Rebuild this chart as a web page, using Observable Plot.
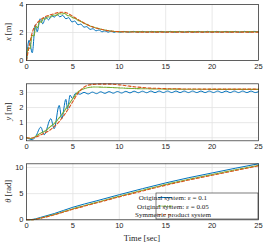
<!DOCTYPE html>
<html><head><meta charset="utf-8">
<script src="https://cdn.jsdelivr.net/npm/d3@7"></script>
<script src="https://cdn.jsdelivr.net/npm/@observablehq/plot@0.6"></script>
<style>
body{margin:0;background:#fff;}
#wrap{position:relative;width:264px;height:245px;overflow:hidden;}
#wrap svg{position:absolute;left:0;}
</style></head><body><div id="wrap"></div>
<script>
// ---------- data ----------
const xTicks = [0, 5, 10, 15, 20, 25];
const legendLabels = ["Original system: ε = 0.1", "Original system: ε = 0.05", "Symmetric product system"];

// x [m], original system eps = 0.1 (key points: peaks/troughs)
const tXBlue = [0,0.28,0.62,0.95,1.15,1.47,1.75,2.08,2.38,2.7,3.0,3.3,3.6,3.9,4.25,4.55,4.9,5.2,5.55,5.85,6.2,6.5,6.85,7.15,7.5,7.8,8.15,8.45,8.8,9.1,9.45,9.75,10.1,10.5,11,11.5,12,12.5,13,13.5,14,14.5,15,15.5,16,16.5,17,17.5,18,18.5,19,19.5,20,20.5,21,21.5,22,22.5,23,23.5,24,24.5,25];
const xBlue  = [0,1.45,0.55,2.55,2.05,2.98,2.62,3.1,2.9,3.2,3.1,3.28,3.12,3.22,2.98,3.06,2.75,2.82,2.55,2.6,2.38,2.42,2.22,2.27,2.12,2.18,2.05,2.12,2.02,2.1,2.01,2.08,2.02,2.08,2.02,2.08,2.02,2.08,2.02,2.08,2.02,2.08,2.02,2.08,2.02,2.08,2.02,2.08,2.02,2.08,2.02,2.08,2.02,2.08,2.02,2.08,2.02,2.08,2.02,2.08,2.02,2.08,2.05];
// x [m], original system eps = 0.05
const tXGreen = [0,0.2,0.4,0.6,0.8,1.0,1.2,1.4,1.6,1.8,2.0,2.3,2.6,2.9,3.2,3.5,3.8,4.1,4.4,4.7,5.0,5.3,5.6,5.9,6.2,6.5,6.8,7.1,7.4,7.7,8.0,8.3,8.6,8.9,9.2,9.5,10,11,12,13,14,15,16,17,18,19,20,21,22,23,24,25];
const xGreen  = [0,0.9,0.85,1.8,1.75,2.45,2.35,2.8,2.72,3.0,2.95,3.12,3.1,3.25,3.22,3.35,3.32,3.36,3.22,3.18,3.05,2.98,2.85,2.78,2.65,2.58,2.48,2.42,2.34,2.3,2.24,2.2,2.16,2.12,2.1,2.07,2.06,2.05,2.06,2.05,2.06,2.05,2.06,2.05,2.06,2.05,2.06,2.05,2.06,2.05,2.06,2.05];
// x [m], symmetric product system
const tXRed = [0,0.25,0.5,0.75,1,1.5,2,2.5,3,3.5,4,4.5,5,5.5,6,6.5,7,7.5,8,8.5,9,9.5,10,11,12,14,16,18,20,22,25];
const xRed  = [0,0.9,1.7,2.25,2.55,2.9,3.12,3.25,3.35,3.43,3.45,3.35,3.15,2.95,2.75,2.58,2.43,2.32,2.23,2.16,2.11,2.08,2.06,2.04,2.03,2.03,2.03,2.03,2.03,2.03,2.03];

// y [m]
const tYBlue = [0,0.65,1.0,1.54,1.9,2.62,2.98,3.52,3.8,4.24,4.42,4.7,4.95,5.3,5.75,6.2,6.65,7.1,7.55,8,8.45,8.9,9.35,9.8,10.25,10.7,11.15,11.6,12.05,12.5,12.95,13.4,13.85,14.3,14.75,15.2,15.65,16.1,16.55,17,17.45,17.9,18.35,18.8,19.25,19.7,20.15,20.6,21.05,21.5,21.95,22.4,22.85,23.3,23.75,24.2,24.65,25];
const yBlue  = [0,-0.12,0.1,0.7,0.2,1.26,0.6,2.14,1.26,2.54,1.92,2.82,2.6,2.95,2.88,3.0,2.9,3.02,2.92,3.04,2.94,3.05,2.95,3.06,2.96,3.07,2.97,3.08,2.98,3.08,2.98,3.09,2.99,3.09,2.99,3.09,2.99,3.09,2.99,3.09,2.99,3.09,2.99,3.09,2.99,3.09,2.99,3.09,2.99,3.09,2.99,3.09,2.99,3.09,2.99,3.09,2.99,3.05];
const tYGreen = [0,0.5,1,1.5,2,2.5,3,3.5,4,4.5,5,5.5,6,6.5,7,7.5,8,9,10,11,12,13,14,15,16,17,18,19,20,21,22,23,24,25];
const yGreen  = [0,-0.05,0.1,0.3,0.45,0.7,0.95,1.3,1.7,2.15,2.6,3.0,3.2,3.3,3.35,3.36,3.35,3.33,3.3,3.27,3.25,3.24,3.23,3.22,3.22,3.21,3.21,3.21,3.2,3.2,3.2,3.2,3.2,3.2];
const tYRed = [0,0.5,1,1.5,2,2.5,3,3.5,4,4.5,5,5.5,6,6.5,7,8,9,10,11,12,13,14,15,16,17,18,19,20,21,22,23,24,25];
const yRed  = [0,-0.02,0.05,0.18,0.33,0.5,0.75,1.05,1.45,1.9,2.4,2.9,3.25,3.45,3.52,3.55,3.55,3.5,3.42,3.35,3.3,3.27,3.25,3.24,3.23,3.23,3.22,3.22,3.22,3.22,3.22,3.22,3.22];

// theta [rad]
const tTh = [0,0.5,1,1.5,2,3,4,5,7.5,10,12.5,15,17.5,20,22.5,25];
const thBlue  = [0,0.04,0.2,0.45,0.7,1.2,1.8,2.4,3.6,4.8,5.95,7.05,8.05,8.95,9.85,10.7];
const thGreen = [0,0.02,0.12,0.32,0.55,1.02,1.55,2.1,3.3,4.5,5.65,6.75,7.75,8.65,9.55,10.4];
const thRed   = [0,0.01,0.1,0.28,0.5,0.95,1.48,2.0,3.2,4.38,5.5,6.6,7.6,8.5,9.4,10.3];

// ---------- styling ----------
const C = {blue: "#0072BD", green: "#77AC30", red: "#D95319"};
const tickFont = "Liberation Sans, Arial, sans-serif";
const serif = "Liberation Serif, Times New Roman, serif";

function series(tB, vB, tG, vG, tR, vR) {
  return [
    Plot.line(tB, {x: tB, y: vB, stroke: C.blue, strokeWidth: 1, curve: "monotone-x"}),
    Plot.line(tG, {x: tG, y: vG, stroke: C.green, strokeWidth: 1.1, strokeDasharray: "2.5,1,1,1", curve: "monotone-x"}),
    Plot.line(tR, {x: tR, y: vR, stroke: C.red, strokeWidth: 1.1, strokeDasharray: "3,2", curve: "monotone-x"})
  ];
}

function panel(o) {
  const svg = Plot.plot({
    width: 264, height: o.height,
    marginLeft: 26, marginRight: 6, marginTop: o.mt, marginBottom: o.mb,
    style: {fontFamily: tickFont, fontSize: "7.5px", color: "#262626", background: "transparent", overflow: "visible"},
    x: {domain: [0, 25]},
    y: {domain: o.yDomain},
    marks: [
      Plot.gridX(xTicks, {stroke: "#e2e2e2", strokeOpacity: 1, strokeWidth: 0.8}),
      Plot.gridY(o.yTicks, {stroke: "#e2e2e2", strokeOpacity: 1, strokeWidth: 0.8}),
      ...o.marks,
      Plot.frame({stroke: "#262626", strokeWidth: 0.7}),
      Plot.axisX(xTicks, {tickSize: 0, tickPadding: 3, label: null}),
      Plot.axisY(o.yTicks, {tickSize: 0, tickPadding: 3, label: null})
    ]
  });
  svg.style.top = o.top + "px";
  const s = d3.select(svg);
  const lab = s.append("text")
    .attr("transform", `translate(${o.labX},${o.labY}) rotate(-90)`)
    .attr("text-anchor", "middle").attr("fill", "#262626")
    .style("font-family", serif).style("font-size", "8.5px");
  lab.append("tspan").style("font-style", "italic").text(o.labVar);
  lab.append("tspan").text(" " + o.labUnit);
  document.getElementById("wrap").appendChild(svg);
  return s;
}

panel({top: 0, height: 75, mt: 4, mb: 15, yDomain: [0, 4], yTicks: [0, 2, 4],
  marks: series(tXBlue, xBlue, tXGreen, xGreen, tXRed, xRed),
  labX: 11, labY: 32, labVar: "x", labUnit: "[m]"});

panel({top: 75, height: 80, mt: 8.3, mb: 14.7, yDomain: [-0.2, 3.57], yTicks: [0, 1, 2, 3],
  marks: series(tYBlue, yBlue, tYGreen, yGreen, tYRed, yRed),
  labX: 11, labY: 36.5, labVar: "y", labUnit: "[m]"});

const s3 = panel({top: 155, height: 90, mt: 8.3, mb: 25.7, yDomain: [0, 10.7], yTicks: [0, 5, 10],
  marks: series(tTh, thBlue, tTh, thGreen, tTh, thRed),
  labX: 11, labY: 36.3, labVar: "θ", labUnit: "[rad]"});

// x-axis title
s3.append("text").attr("x", 142).attr("y", 86).attr("text-anchor", "middle")
  .attr("fill", "#262626").style("font-family", serif).style("font-size", "8.5px")
  .text("Time [sec]");

// legend
const lg = s3.append("g");
lg.append("rect").attr("x", 156).attr("y", 38).attr("width", 102).attr("height", 26)
  .attr("fill", "#fff").attr("stroke", "#262626").attr("stroke-width", 0.6);
const lstyles = [[C.blue, null, 1], [C.green, "2.5,1,1,1", 1.1], [C.red, "3,2", 1.1]];
legendLabels.forEach((name, i) => {
  const yy = 42.5 + i * 8.6;
  lg.append("line").attr("x1", 158).attr("x2", 172).attr("y1", yy).attr("y2", yy)
    .attr("stroke", lstyles[i][0]).attr("stroke-width", lstyles[i][2])
    .attr("stroke-dasharray", lstyles[i][1]);
  lg.append("text").attr("x", 173).attr("y", yy).attr("dy", "0.35em")
    .attr("fill", "#262626").style("font-family", serif).style("font-size", "7.1px").text(name);
});
</script>
</body></html>
